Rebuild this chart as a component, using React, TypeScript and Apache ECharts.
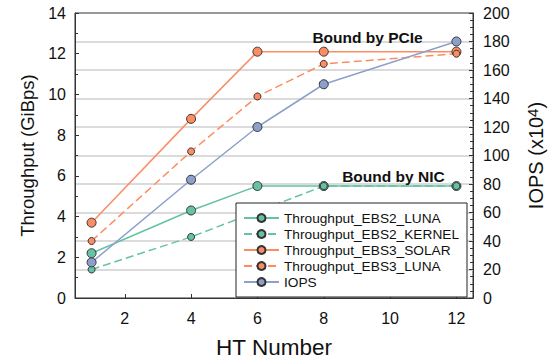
import React, { useEffect, useRef } from "react";
import * as echarts from "echarts";

const htNumbers = [1, 4, 6, 8, 12];
const ebs2Luna = [2.2, 4.3, 5.5, 5.5, 5.5];
const ebs2KernelX = [1, 4, 8, 12];
const ebs2Kernel = [1.4, 3.0, 5.5, 5.5];
const ebs3Solar = [3.7, 8.8, 12.1, 12.1, 12.1];
const ebs3Luna = [2.8, 7.2, 9.9, 11.5, 12.0];
const iops = [25, 83, 120, 150, 180];
const xTicks = [2, 4, 6, 8, 10, 12];

const GREEN = "#66c2a5";
const ORANGE = "#fc8d62";
const PURPLE = "#8da0cb";
const FONT = "'Liberation Sans', Arial, sans-serif";

function pairs(xs: number[], ys: number[]) {
  return xs.map((x, i) => [x, ys[i]]);
}

export default function App() {
  const ref = useRef<HTMLDivElement>(null);
  useEffect(() => {
    if (!ref.current) return;
    const chart = echarts.init(ref.current, null, { renderer: "svg" });
    const mk = (
      name: string,
      data: number[][],
      color: string,
      dashed: boolean,
      yAxisIndex = 0,
      extra: any = {}
    ) => ({
      name,
      type: "line",
      yAxisIndex,
      data,
      symbol: "circle",
      symbolSize: dashed ? 7 : 9,
      lineStyle: { color, width: 1.5, type: dashed ? [8, 4] : "solid" },
      itemStyle: { color, borderColor: "#333", borderWidth: 1 },
      ...extra,
    });
    const annot = (text: string, coord: number[]) => ({
      coord,
      symbol: "rect",
      symbolSize: 1,
      itemStyle: { color: "transparent" },
      label: {
        show: true,
        position: "inside",
        formatter: text,
        color: "#111",
        fontWeight: "bold",
        fontSize: 15.5,
        fontFamily: FONT,
      },
    });
    chart.setOption({
      animation: false,
      textStyle: { fontFamily: FONT },
      grid: {
        left: 75,
        right: 84,
        top: 13,
        bottom: 64,
        show: true,
        borderColor: "#333",
        borderWidth: 1,
        backgroundColor: "transparent",
      },
      legend: {
        orient: "vertical",
        left: 236,
        top: 203,
        itemWidth: 35,
        itemHeight: 10,
        itemGap: 2,
        padding: [8, 8, 8, 7],
        borderColor: "#222",
        borderWidth: 1,
        backgroundColor: "#fff",
        textStyle: { fontSize: 13.7, lineHeight: 13.5, color: "#111", fontFamily: FONT },
        z: 10,
      },
      xAxis: {
        type: "value",
        min: 0.5,
        max: 12.5,
        name: "HT Number",
        nameLocation: "middle",
        nameGap: 38,
        nameTextStyle: { fontSize: 22.5, color: "#111", fontFamily: FONT },
        axisLine: { show: true, lineStyle: { color: "#333", width: 1 } },
        axisTick: { show: true, inside: true, length: 4, customValues: xTicks, lineStyle: { color: "#333" } },
        axisLabel: { customValues: xTicks, fontSize: 16, color: "#111", margin: 12, fontFamily: FONT },
        splitLine: { show: false },
      },
      yAxis: [
        {
          type: "value",
          min: 0,
          max: 14,
          interval: 2,
          position: "left",
          name: "Throughput (GiBps)",
          nameLocation: "middle",
          nameGap: 38,
          nameTextStyle: { fontSize: 18.5, color: "#111", fontFamily: FONT },
          axisLine: { show: true, lineStyle: { color: "#333", width: 1 } },
          axisTick: { show: true, inside: true, length: 4, lineStyle: { color: "#333" } },
          minorTick: { show: true, splitNumber: 2, length: 3, lineStyle: { color: "#333" } },
          axisLabel: { fontSize: 16, color: "#111", margin: 9, fontFamily: FONT },
          splitLine: { show: false },
        },
        {
          type: "value",
          min: 0,
          max: 200,
          interval: 20,
          position: "right",
          name: "IOPS (x10{sup|4})",
          nameLocation: "middle",
          nameGap: 52,
          nameTextStyle: {
            fontSize: 20,
            color: "#111",
            fontFamily: FONT,
            rich: { sup: { fontSize: 15, color: "#111", fontFamily: FONT, verticalAlign: "top", lineHeight: 22 } },
          },
          axisLine: { show: true, lineStyle: { color: "#333", width: 1 } },
          axisTick: { show: true, inside: true, length: 4, lineStyle: { color: "#333" } },
          minorTick: { show: true, splitNumber: 4, length: 3, lineStyle: { color: "#333" } },
          axisLabel: { fontSize: 16, color: "#111", margin: 10, fontFamily: FONT },
          splitLine: {
            show: true,
            showMinLine: false,
            showMaxLine: false,
            lineStyle: { color: "#cfcfcf", width: 1.5 },
          },
        },
      ],
      series: [
        mk("Throughput_EBS2_LUNA", pairs(htNumbers, ebs2Luna), GREEN, false, 0, {
          markPoint: { silent: true, data: [annot("Bound by NIC", [10.1, 5.95])] },
        }),
        mk("Throughput_EBS2_KERNEL", pairs(ebs2KernelX, ebs2Kernel), GREEN, true),
        mk("Throughput_EBS3_SOLAR", pairs(htNumbers, ebs3Solar), ORANGE, false, 0, {
          markPoint: { silent: true, data: [annot("Bound by PCIe", [9.32, 12.78])] },
        }),
        mk("Throughput_EBS3_LUNA", pairs(htNumbers, ebs3Luna), ORANGE, true),
        mk("IOPS", pairs(htNumbers, iops), PURPLE, false, 1),
      ],
    });
    return () => chart.dispose();
  }, []);
  return (
    <div
      ref={ref}
      style={{ position: "absolute", left: 0, top: 0, width: 557, height: 364 }}
    />
  );
}
